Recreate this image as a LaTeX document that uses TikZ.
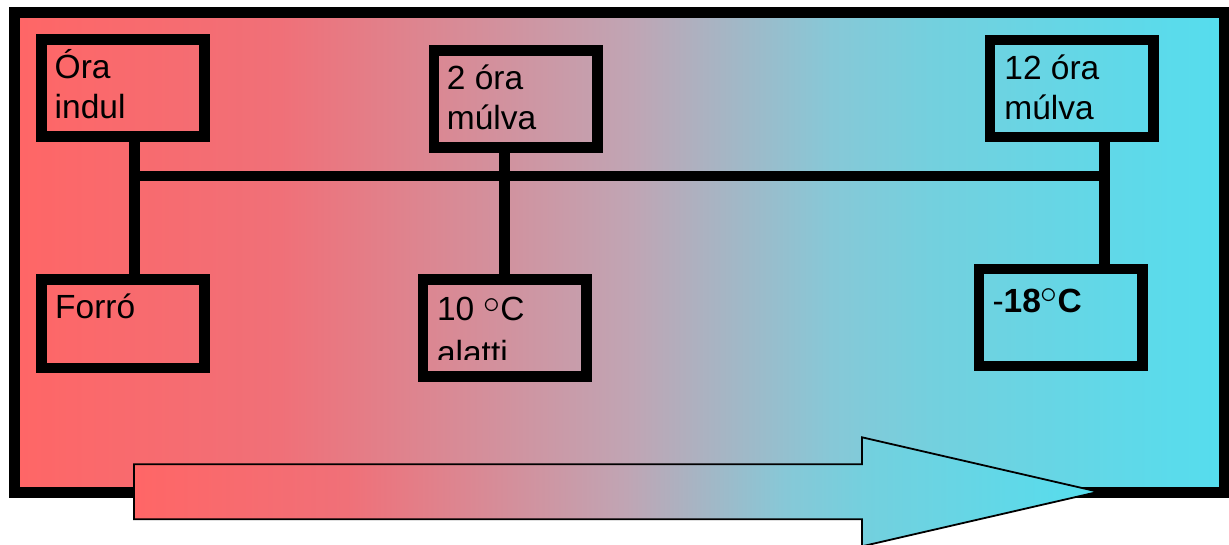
\documentclass[tikz,border=0pt]{standalone}
\usepackage{fix-cm}
\usepackage{fontspec}
\setmainfont{Liberation Sans}
\usetikzlibrary{calc}
\definecolor{hot}{RGB}{255,102,102}
\definecolor{cold}{RGB}{85,221,238}
% warm-to-cold ramp; the path box spans 25bp..75bp of the shading
\pgfdeclarehorizontalshading{warmcold}{100bp}{%
  rgb(0bp)=(1,0.4,0.4);
  rgb(25bp)=(1,0.4,0.4);
  rgb(36bp)=(0.941,0.439,0.471);
  rgb(50.5bp)=(0.753,0.647,0.706);
  rgb(58.75bp)=(0.529,0.784,0.843);
  rgb(63bp)=(0.451,0.816,0.871);
  rgb(75bp)=(0.333,0.867,0.933);
  rgb(100bp)=(0.333,0.867,0.933)}
\tikzset{
  frame/.style={line width=11pt},
  stage/.style={draw=black, line width=10.5pt, anchor=north west, inner sep=0pt,
    minimum width=163.4pt, minimum height=97pt},
  link/.style={line width=10.7pt},
  txt/.style={anchor=base west, inner sep=0pt, align=left,
    font=\fontsize{33.5}{40}\selectfont},
  flow/.style={shading=warmcold, draw=black, line width=1.8pt}
}
\newcommand{\degring}[1]{\raisebox{#1}{$\circ$}}
\begin{document}
\begin{tikzpicture}[x=1pt,y=-1pt]
\useasboundingbox (0,0) rectangle (1229,545);
% shaded panel with heavy frame
\shade[shading=warmcold] (14.5,12.5) rectangle (1224,492);
\draw[frame] (14.5,12.5) rectangle (1224,492);

% time stages (top row) and temperatures (bottom row)
\node[stage] (b1) at (36,34.5) {};
\node[stage] (b2) at (428.7,45.3) {};
\node[stage] (b3) at (984.7,34.7) {};
\node[stage, minimum height=88.3pt] (b4) at (36,274.2) {};
\node[stage] (b5) at (417.8,274.2) {};
\node[stage] (b6) at (973.8,263.7) {};

% junction points on the common bus
\coordinate (j1) at (134.7,176);
\coordinate (j2) at (504.7,176);
\coordinate (j3) at (1104.5,176);

\draw[link] (j1 |- b1.south) -- (j1 |- b4.north);
\draw[link] (j1) -- (j3);
\draw[link] (j2 |- b2.south) -- (j2 |- b5.north);
\draw[link] (j3 |- b3.south) -- (j3 |- b6.north);

% labels (base anchor sits on the last line)
\node[txt] (t1) at ($(b1.north west)+(18.5,84.5)$) {Óra\\indul};
\node[txt] (t2) at ($(b2.north west)+(18,84.7)$) {2 óra\\múlva};
\node[txt] (t3) at ($(b3.north west)+(19.5,84.6)$) {12 óra\\múlva};
\node[txt] (t4) at ($(b4.north west)+(19,44.8)$) {Forró};
\begin{scope}
  % the second line overflows its frame and is cut off
  \clip (b5.north west) rectangle ($(b5.north east)+(0,85.1)$);
  \node[txt, font=\fontsize{33.5}{44}\selectfont] (t5)
    at ($(b5.north west)+(19,90.5)$) {10 \degring{7pt}C\\alatti};
\end{scope}
\node[txt] (t6) at ($(b6.north west)+(18.5,48.6)$) {-\textbf{18}\degring{9pt}\textbf{C}};

% time arrow
\shadedraw[flow] (134,464.3) -- (862,464.3) -- (862,437.3) -- (1098.5,491.8)
  -- (862,546.3) -- (862,519.3) -- (134,519.3) -- cycle;
\end{tikzpicture}
\end{document}
